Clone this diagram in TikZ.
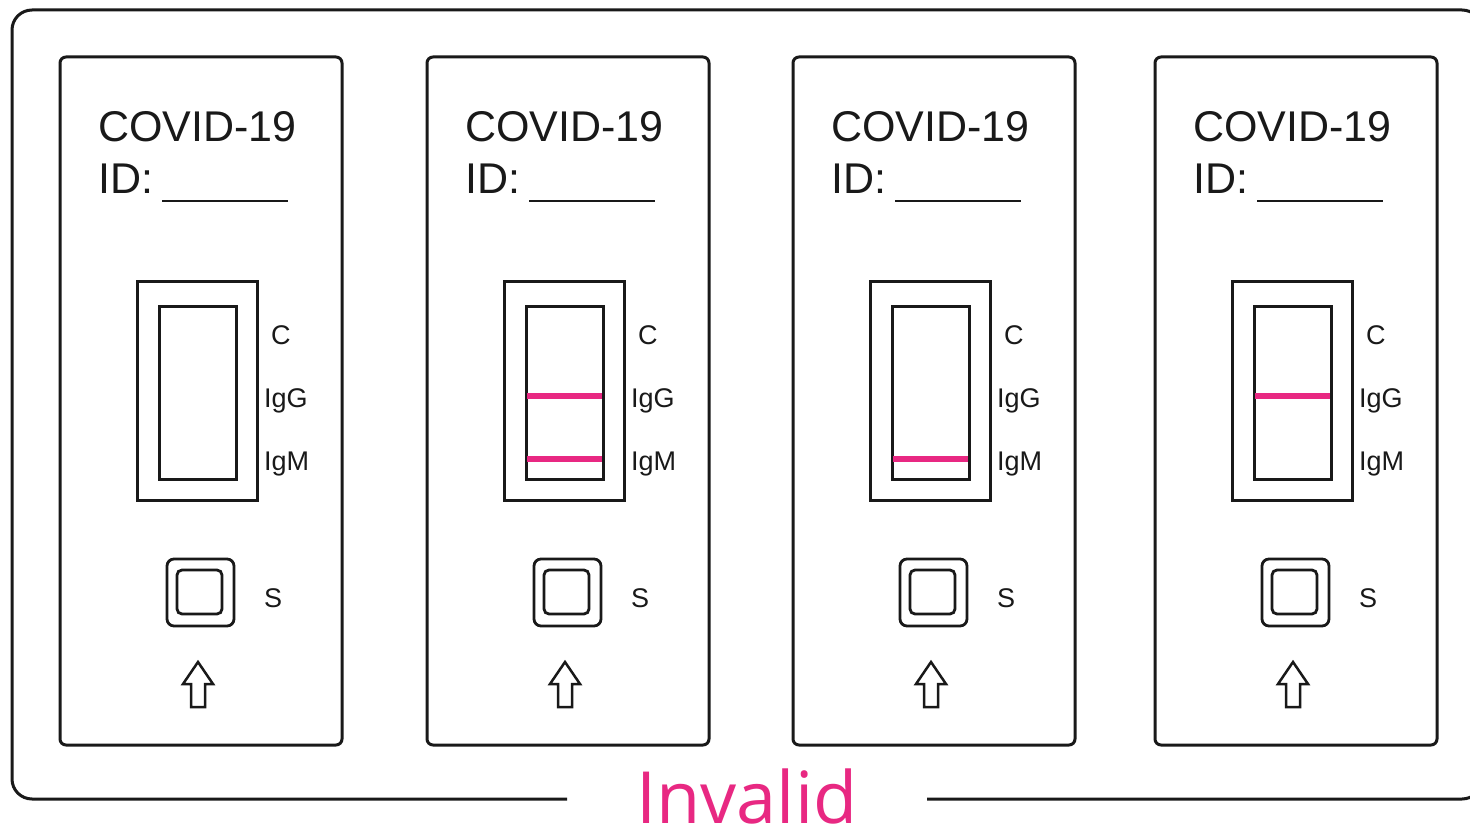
\documentclass[tikz,border=0pt]{standalone}
\usepackage{fontspec}
\setmainfont{Liberation Sans}
\newfontfamily\invfont{Open Sans}
\definecolor{pinkline}{RGB}{232,40,130}
\definecolor{ink}{RGB}{25,25,25}
\tikzset{
  frameline/.style={draw=ink, line width=3pt, rounded corners=20pt},
  casebox/.style={draw=ink, line width=3pt, rounded corners=6pt},
  winbox/.style={draw=ink, line width=3pt},
  btnbox/.style={draw=ink, line width=2.8pt},
  arrowline/.style={draw=ink, line width=2.5pt, line join=miter},
  uline/.style={draw=ink, line width=2.2pt},
  band/.style={draw=pinkline, line width=6pt},
  titletext/.style={font=\fontsize{43}{43}\selectfont, text=ink, inner sep=0pt, anchor=base west},
  lbltext/.style={font=\fontsize{27}{27}\selectfont, text=ink, inner sep=0pt, anchor=base west},
  cassette/.pic={
    \draw[casebox] (0,57) rectangle (282,745);
    \node[titletext] (-title) at (38,142) {COVID-19};
    \node[titletext] (-id) at (38,194) {ID:};
    \coordinate (-ula) at (102,201);
    \coordinate (-ulb) at (228,201);
    \draw[uline] (-ula) -- (-ulb);
    \draw[winbox] (77,281) rectangle (197,500);
    \draw[winbox] (99,306) rectangle (176,479);
    \node[lbltext] (-c) at (211,344.5) {C};
    \node[lbltext] (-igg) at (204,407) {IgG};
    \node[lbltext] (-igm) at (204,470) {IgM};
    \draw[btnbox, rounded corners=7pt] (107,559) rectangle (174,626);
    \draw[btnbox, rounded corners=5pt] (117,570) rectangle (162,614);
    \node[lbltext] (-s) at (204,607) {S};
    \draw[arrowline] (138,662) -- (123,684) -- (131,684) -- (131,707) -- (145,707) -- (145,684) -- (153,684) -- cycle;
  }
}
\begin{document}
\begin{tikzpicture}[x=1pt,y=-1pt]
\useasboundingbox (0,0) rectangle (1470,829);
\clip (0,0) rectangle (1470,829);
\fill[white] (0,0) rectangle (1470,829);
\draw[frameline] (567,799) -- (12,799) -- (12,10) -- (1482,10) -- (1482,799) -- (927,799);
\pic (c1) at (60,0) {cassette};
\pic (c2) at (427,0) {cassette};
\pic (c3) at (793,0) {cassette};
\pic (c4) at (1155,0) {cassette};
% result bands
\draw[band] (527,396) -- (602,396);
\draw[band] (527,459) -- (602,459);
\draw[band] (893,459) -- (968,459);
\draw[band] (1255,396) -- (1330,396);
\node[font=\invfont\fontsize{72}{72}\selectfont, text=pinkline, inner sep=0pt, anchor=base] (inv) at (747,823) {Invalid};
\end{tikzpicture}
\end{document}
